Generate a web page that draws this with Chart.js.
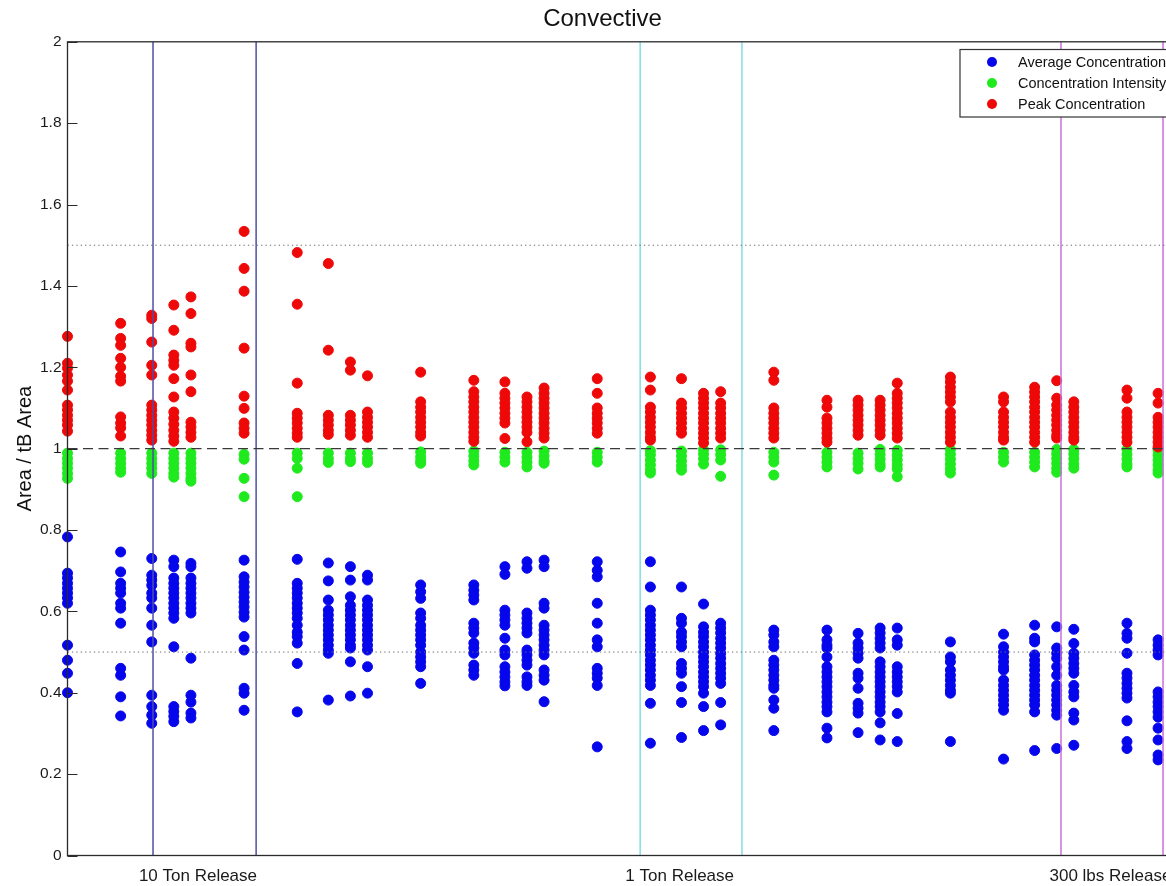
<!DOCTYPE html>
<html>
<head>
<meta charset="utf-8">
<script src="https://cdn.jsdelivr.net/npm/chart.js@4.4.1/dist/chart.umd.min.js"></script>
<style>
  html, body { margin: 0; padding: 0; background: #fff; overflow: hidden; }
  #wrap { width: 1220px; height: 886px; }
</style>
</head>
<body>
<div id="wrap"><canvas id="c" width="1220" height="886"></canvas></div>
<script>
// Sample positions along the log-spaced x axis (one column of points per position)
const xPositions = [1, 2, 3, 4, 5, 10, 20, 30, 40, 50, 100, 200, 300, 400, 500,
  1000, 2000, 3000, 4000, 5000, 1e4, 2e4, 3e4, 4e4, 5e4, 1e5, 2e5, 3e5, 4e5, 5e5, 1e6, 1.5e6];

// Area / tB Area values, one inner array per column
const averageConcentration = [
  [0.783,0.694,0.682,0.669,0.657,0.645,0.633,0.620,0.517,0.480,0.448,0.400],
  [0.746,0.697,0.669,0.657,0.645,0.620,0.608,0.571,0.460,0.443,0.390,0.343],
  [0.730,0.689,0.677,0.664,0.645,0.633,0.608,0.566,0.525,0.394,0.366,0.345,0.325],
  [0.726,0.710,0.682,0.669,0.657,0.645,0.633,0.620,0.608,0.596,0.583,0.513,0.366,0.354,0.342,0.329],
  [0.718,0.710,0.682,0.669,0.657,0.645,0.633,0.620,0.608,0.596,0.485,0.394,0.377,0.350,0.338],
  [0.726,0.685,0.672,0.660,0.647,0.635,0.623,0.611,0.598,0.586,0.538,0.505,0.411,0.399,0.357],
  [0.728,0.669,0.657,0.645,0.633,0.620,0.608,0.596,0.583,0.566,0.549,0.538,0.522,0.472,0.353],
  [0.719,0.675,0.628,0.603,0.591,0.579,0.566,0.554,0.542,0.530,0.517,0.505,0.497,0.382],
  [0.710,0.677,0.636,0.615,0.603,0.591,0.579,0.566,0.554,0.542,0.530,0.517,0.510,0.476,0.392],
  [0.689,0.677,0.628,0.615,0.603,0.591,0.579,0.566,0.554,0.542,0.530,0.517,0.505,0.464,0.399],
  [0.665,0.648,0.632,0.596,0.583,0.566,0.554,0.542,0.530,0.517,0.500,0.488,0.476,0.464,0.423],
  [0.665,0.652,0.640,0.628,0.571,0.559,0.547,0.522,0.510,0.497,0.468,0.456,0.443],
  [0.710,0.691,0.603,0.591,0.579,0.566,0.534,0.505,0.493,0.464,0.451,0.439,0.427,0.417],
  [0.722,0.706,0.596,0.583,0.571,0.559,0.547,0.505,0.493,0.480,0.468,0.439,0.427,0.418],
  [0.726,0.710,0.620,0.608,0.566,0.554,0.542,0.530,0.517,0.505,0.493,0.456,0.443,0.431,0.378],
  [0.722,0.701,0.685,0.620,0.571,0.530,0.513,0.460,0.448,0.436,0.418,0.267],
  [0.722,0.660,0.603,0.591,0.579,0.566,0.554,0.542,0.530,0.517,0.505,0.493,0.480,0.468,0.456,0.443,0.431,0.418,0.374,0.276],
  [0.660,0.583,0.571,0.549,0.538,0.525,0.513,0.472,0.460,0.448,0.415,0.376,0.290],
  [0.618,0.562,0.549,0.538,0.525,0.513,0.500,0.488,0.476,0.464,0.451,0.439,0.427,0.415,0.399,0.366,0.307],
  [0.571,0.559,0.547,0.534,0.522,0.510,0.497,0.485,0.472,0.460,0.448,0.436,0.423,0.376,0.321],
  [0.554,0.542,0.525,0.513,0.480,0.468,0.456,0.443,0.431,0.418,0.411,0.382,0.362,0.307],
  [0.554,0.530,0.517,0.510,0.488,0.464,0.451,0.439,0.427,0.415,0.402,0.390,0.377,0.366,0.353,0.313,0.289],
  [0.546,0.522,0.510,0.497,0.485,0.448,0.436,0.411,0.374,0.362,0.350,0.302],
  [0.559,0.547,0.534,0.522,0.510,0.476,0.464,0.451,0.439,0.427,0.415,0.402,0.390,0.377,0.366,0.353,0.326,0.284],
  [0.559,0.530,0.517,0.464,0.451,0.439,0.427,0.415,0.402,0.349,0.280],
  [0.525,0.488,0.476,0.456,0.443,0.431,0.418,0.406,0.399,0.280],
  [0.544,0.513,0.500,0.488,0.476,0.464,0.456,0.431,0.418,0.406,0.394,0.382,0.370,0.357,0.237],
  [0.566,0.534,0.525,0.493,0.480,0.468,0.456,0.443,0.431,0.418,0.406,0.394,0.382,0.370,0.353,0.258],
  [0.562,0.510,0.497,0.485,0.464,0.443,0.418,0.406,0.394,0.382,0.370,0.357,0.345,0.263],
  [0.556,0.521,0.497,0.485,0.472,0.460,0.448,0.418,0.402,0.390,0.350,0.333,0.271],
  [0.571,0.546,0.534,0.497,0.448,0.436,0.423,0.411,0.399,0.387,0.331,0.280,0.263],
  [0.530,0.517,0.505,0.493,0.402,0.390,0.377,0.366,0.353,0.340,0.313,0.284,0.247,0.235]
];

const concentrationIntensity = [
  [0.989,0.976,0.964,0.952,0.939,0.927],
  [0.989,0.976,0.964,0.952,0.942],
  [0.989,0.976,0.964,0.952,0.939],
  [0.989,0.976,0.964,0.952,0.939,0.930],
  [0.989,0.976,0.964,0.952,0.939,0.927,0.920],
  [0.986,0.974,0.927,0.882],
  [0.989,0.976,0.952,0.882],
  [0.989,0.976,0.966],
  [0.989,0.976,0.968],
  [0.989,0.976,0.966],
  [0.992,0.980,0.970,0.964],
  [0.994,0.982,0.970,0.960],
  [0.991,0.979,0.967],
  [0.991,0.979,0.967,0.955],
  [0.994,0.982,0.970,0.964],
  [0.991,0.979,0.967],
  [0.995,0.985,0.972,0.960,0.948,0.940],
  [0.994,0.982,0.970,0.958,0.947],
  [0.998,0.987,0.975,0.962],
  [0.997,0.985,0.972,0.932],
  [0.991,0.979,0.967,0.935],
  [0.991,0.979,0.967,0.955],
  [0.989,0.976,0.964,0.950],
  [0.998,0.986,0.974,0.962,0.955],
  [0.996,0.984,0.972,0.960,0.950,0.931],
  [0.998,0.986,0.974,0.962,0.950,0.940],
  [0.991,0.979,0.967],
  [0.991,0.979,0.967,0.955],
  [0.998,0.987,0.976,0.964,0.952,0.942],
  [0.998,0.987,0.975,0.962,0.952],
  [0.998,0.986,0.974,0.962,0.955],
  [0.996,0.984,0.972,0.960,0.948,0.940]
];

const peakConcentration = [
  [1.276,1.210,1.198,1.181,1.166,1.144,1.107,1.095,1.082,1.070,1.058,1.043],
  [1.308,1.271,1.254,1.222,1.200,1.178,1.166,1.078,1.063,1.051,1.031],
  [1.328,1.320,1.262,1.205,1.181,1.107,1.095,1.082,1.070,1.058,1.045,1.033,1.021],
  [1.353,1.291,1.230,1.217,1.205,1.172,1.127,1.090,1.075,1.060,1.045,1.031,1.018],
  [1.373,1.332,1.259,1.250,1.181,1.140,1.065,1.053,1.040,1.028],
  [1.534,1.443,1.387,1.247,1.129,1.099,1.063,1.050,1.038],
  [1.482,1.355,1.161,1.087,1.075,1.063,1.050,1.038,1.028],
  [1.455,1.242,1.082,1.070,1.058,1.045,1.035],
  [1.213,1.193,1.082,1.070,1.058,1.045,1.033],
  [1.179,1.090,1.077,1.065,1.053,1.040,1.028],
  [1.188,1.115,1.102,1.090,1.077,1.065,1.053,1.040,1.031],
  [1.168,1.140,1.127,1.115,1.102,1.090,1.077,1.065,1.053,1.040,1.028,1.018],
  [1.164,1.136,1.124,1.112,1.100,1.087,1.075,1.063,1.025],
  [1.127,1.115,1.102,1.090,1.077,1.065,1.053,1.040,1.017],
  [1.149,1.136,1.124,1.112,1.100,1.087,1.075,1.063,1.050,1.038,1.026],
  [1.172,1.136,1.100,1.087,1.075,1.063,1.050,1.038],
  [1.176,1.144,1.102,1.090,1.077,1.065,1.053,1.040,1.028,1.021],
  [1.172,1.112,1.100,1.087,1.075,1.063,1.050,1.038],
  [1.136,1.124,1.112,1.100,1.087,1.075,1.063,1.050,1.038,1.026,1.014],
  [1.140,1.112,1.100,1.087,1.075,1.063,1.050,1.038,1.026],
  [1.188,1.168,1.100,1.087,1.075,1.063,1.050,1.038,1.026],
  [1.119,1.102,1.075,1.063,1.050,1.038,1.026,1.016],
  [1.119,1.107,1.095,1.082,1.070,1.058,1.045,1.033],
  [1.119,1.107,1.095,1.082,1.070,1.058,1.045,1.033],
  [1.161,1.136,1.124,1.112,1.100,1.087,1.075,1.063,1.050,1.038,1.026],
  [1.176,1.164,1.151,1.139,1.127,1.115,1.090,1.077,1.065,1.053,1.040,1.028,1.016],
  [1.127,1.115,1.090,1.077,1.065,1.053,1.040,1.028,1.021],
  [1.151,1.139,1.127,1.115,1.102,1.090,1.077,1.065,1.053,1.040,1.028,1.016],
  [1.167,1.124,1.107,1.095,1.082,1.070,1.058,1.045,1.033,1.026],
  [1.115,1.102,1.090,1.077,1.065,1.053,1.040,1.028,1.021],
  [1.144,1.124,1.090,1.077,1.065,1.053,1.040,1.028,1.016],
  [1.136,1.112,1.077,1.065,1.053,1.040,1.028,1.016,1.004]
];

// Release groups: label, label position and bracketing lines on the x axis
const releaseLabels = ['10 Ton Release', '1 Ton Release', '300 lbs Release'];
const releaseTickValues = [5.48, 2930, 806000];
const releaseBounds = [[3.05, 11.7], [1750, 6600], [423000, 1600000]];
const releaseColors = ['rgb(78,78,168)', 'rgb(128,222,228)', 'rgb(200,112,220)'];

// Horizontal reference levels
const referenceLevels = [0.5, 1.0, 1.5];

const yTicks = [0, 0.2, 0.4, 0.6, 0.8, 1, 1.2, 1.4, 1.6, 1.8, 2];
const X_MIN = 1, X_MAX = 2.766e6;
const FONT = "'Liberation Sans', Arial, Helvetica, sans-serif";

function columnsToPoints(columns) {
  const pts = [];
  columns.forEach((col, i) => col.forEach(v => pts.push({ x: xPositions[i], y: v })));
  return pts;
}

function scatterSet(label, columns, color, order) {
  return {
    type: 'scatter',
    label,
    data: columnsToPoints(columns),
    backgroundColor: color,
    borderColor: color,
    pointRadius: 5,
    pointBorderWidth: 1,
    pointHoverRadius: 5,
    clip: false,
    order
  };
}

const datasets = [
  scatterSet('Average Concentration', averageConcentration, 'rgb(6,6,236)', 3),
  scatterSet('Concentration Intensity', concentrationIntensity, 'rgb(30,234,30)', 2),
  scatterSet('Peak Concentration', peakConcentration, 'rgb(238,8,8)', 1)
];

// reference lines (drawn above the points)
referenceLevels.forEach(level => {
  const unity = level === 1;
  datasets.push({
    type: 'line',
    label: 'ref' + level,
    data: [{ x: X_MIN, y: level }, { x: X_MAX, y: level }],
    borderColor: unity ? '#3a3a3a' : '#6a6a6a',
    borderWidth: unity ? 1.4 : 1,
    borderDash: unity ? [10, 5.5] : [1.3, 3.1],
    pointRadius: 0,
    fill: false,
    order: 0
  });
});
releaseBounds.forEach((pair, g) => {
  pair.forEach(xv => {
    datasets.push({
      type: 'line',
      label: 'bound',
      data: [{ x: xv, y: 0 }, { x: xv, y: 2 }],
      borderColor: releaseColors[g],
      borderWidth: 1.5,
      pointRadius: 0,
      fill: false,
      order: 0
    });
  });
});

// axes box and inward y tick marks
const framePlugin = {
  id: 'frame',
  afterDatasetsDraw(chart) {
    const { ctx, chartArea: a, scales } = chart;
    ctx.save();
    ctx.strokeStyle = '#2a2a2a';
    ctx.lineWidth = 1.3;
    ctx.strokeRect(a.left, a.top, a.right - a.left, a.bottom - a.top);
    ctx.lineWidth = 1.1;
    yTicks.forEach(v => {
      const y = Math.round(scales.y.getPixelForValue(v)) + 0.5;
      ctx.beginPath();
      ctx.moveTo(a.left, y); ctx.lineTo(a.left + 10, y);
      ctx.moveTo(a.right, y); ctx.lineTo(a.right - 10, y);
      ctx.stroke();
    });
    ctx.restore();
  }
};

// boxed legend in the upper right corner of the axes
const boxLegendPlugin = {
  id: 'boxLegend',
  afterDraw(chart) {
    const { ctx, chartArea: a } = chart;
    const left = 960, top = 49.5, bottom = 117, right = a.right - 7;
    ctx.save();
    ctx.fillStyle = '#fff';
    ctx.fillRect(left, top, right - left, bottom - top);
    ctx.strokeStyle = '#333';
    ctx.lineWidth = 1.2;
    ctx.strokeRect(left, top, right - left, bottom - top);
    ctx.font = '14.5px ' + FONT;
    ctx.textBaseline = 'middle';
    ctx.textAlign = 'left';
    chart.data.datasets.slice(0, 3).forEach((ds, i) => {
      const y = 62 + i * 21;
      ctx.fillStyle = ds.backgroundColor;
      ctx.beginPath();
      ctx.arc(992, y, 5, 0, Math.PI * 2);
      ctx.fill();
      ctx.fillStyle = '#111';
      ctx.fillText(ds.label, 1018, y + 1);
    });
    ctx.restore();
  }
};

new Chart(document.getElementById('c'), {
  data: { datasets },
  options: {
    responsive: false,
    animation: false,
    devicePixelRatio: 1,
    events: [],
    layout: { padding: { left: 0, right: 15, top: 0, bottom: 0 } },
    plugins: {
      legend: { display: false },
      tooltip: { enabled: false },
      title: {
        display: true,
        text: 'Convective',
        color: '#111',
        font: { family: FONT, size: 24, weight: 'normal' },
        padding: { top: 5, bottom: 8 }
      }
    },
    scales: {
      x: {
        type: 'logarithmic',
        min: X_MIN,
        max: X_MAX,
        grid: { display: false, drawTicks: false },
        border: { display: false },
        afterBuildTicks(scale) {
          scale.ticks = releaseTickValues.map(v => ({ value: v }));
        },
        afterFit(scale) { scale.height = 30.5; },
        ticks: {
          autoSkip: false,
          maxRotation: 0,
          padding: 11,
          color: '#1a1a1a',
          font: { family: FONT, size: 17 },
          callback: (v, i) => releaseLabels[i]
        }
      },
      y: {
        min: 0,
        max: 2,
        grid: { display: false, drawTicks: false },
        border: { display: false },
        afterBuildTicks(scale) {
          scale.ticks = yTicks.map(v => ({ value: v }));
        },
        afterFit(scale) { scale.width = 67.5; },
        ticks: {
          padding: 6,
          color: '#1a1a1a',
          font: { family: FONT, size: 15.5 },
          callback: v => String(Math.round(v * 10) / 10)
        },
        title: {
          display: true,
          text: 'Area / tB Area',
          color: '#111',
          font: { family: FONT, size: 20 },
          padding: { top: 13, bottom: 0 }
        }
      }
    }
  },
  plugins: [framePlugin, boxLegendPlugin]
});
</script>
</body>
</html>
